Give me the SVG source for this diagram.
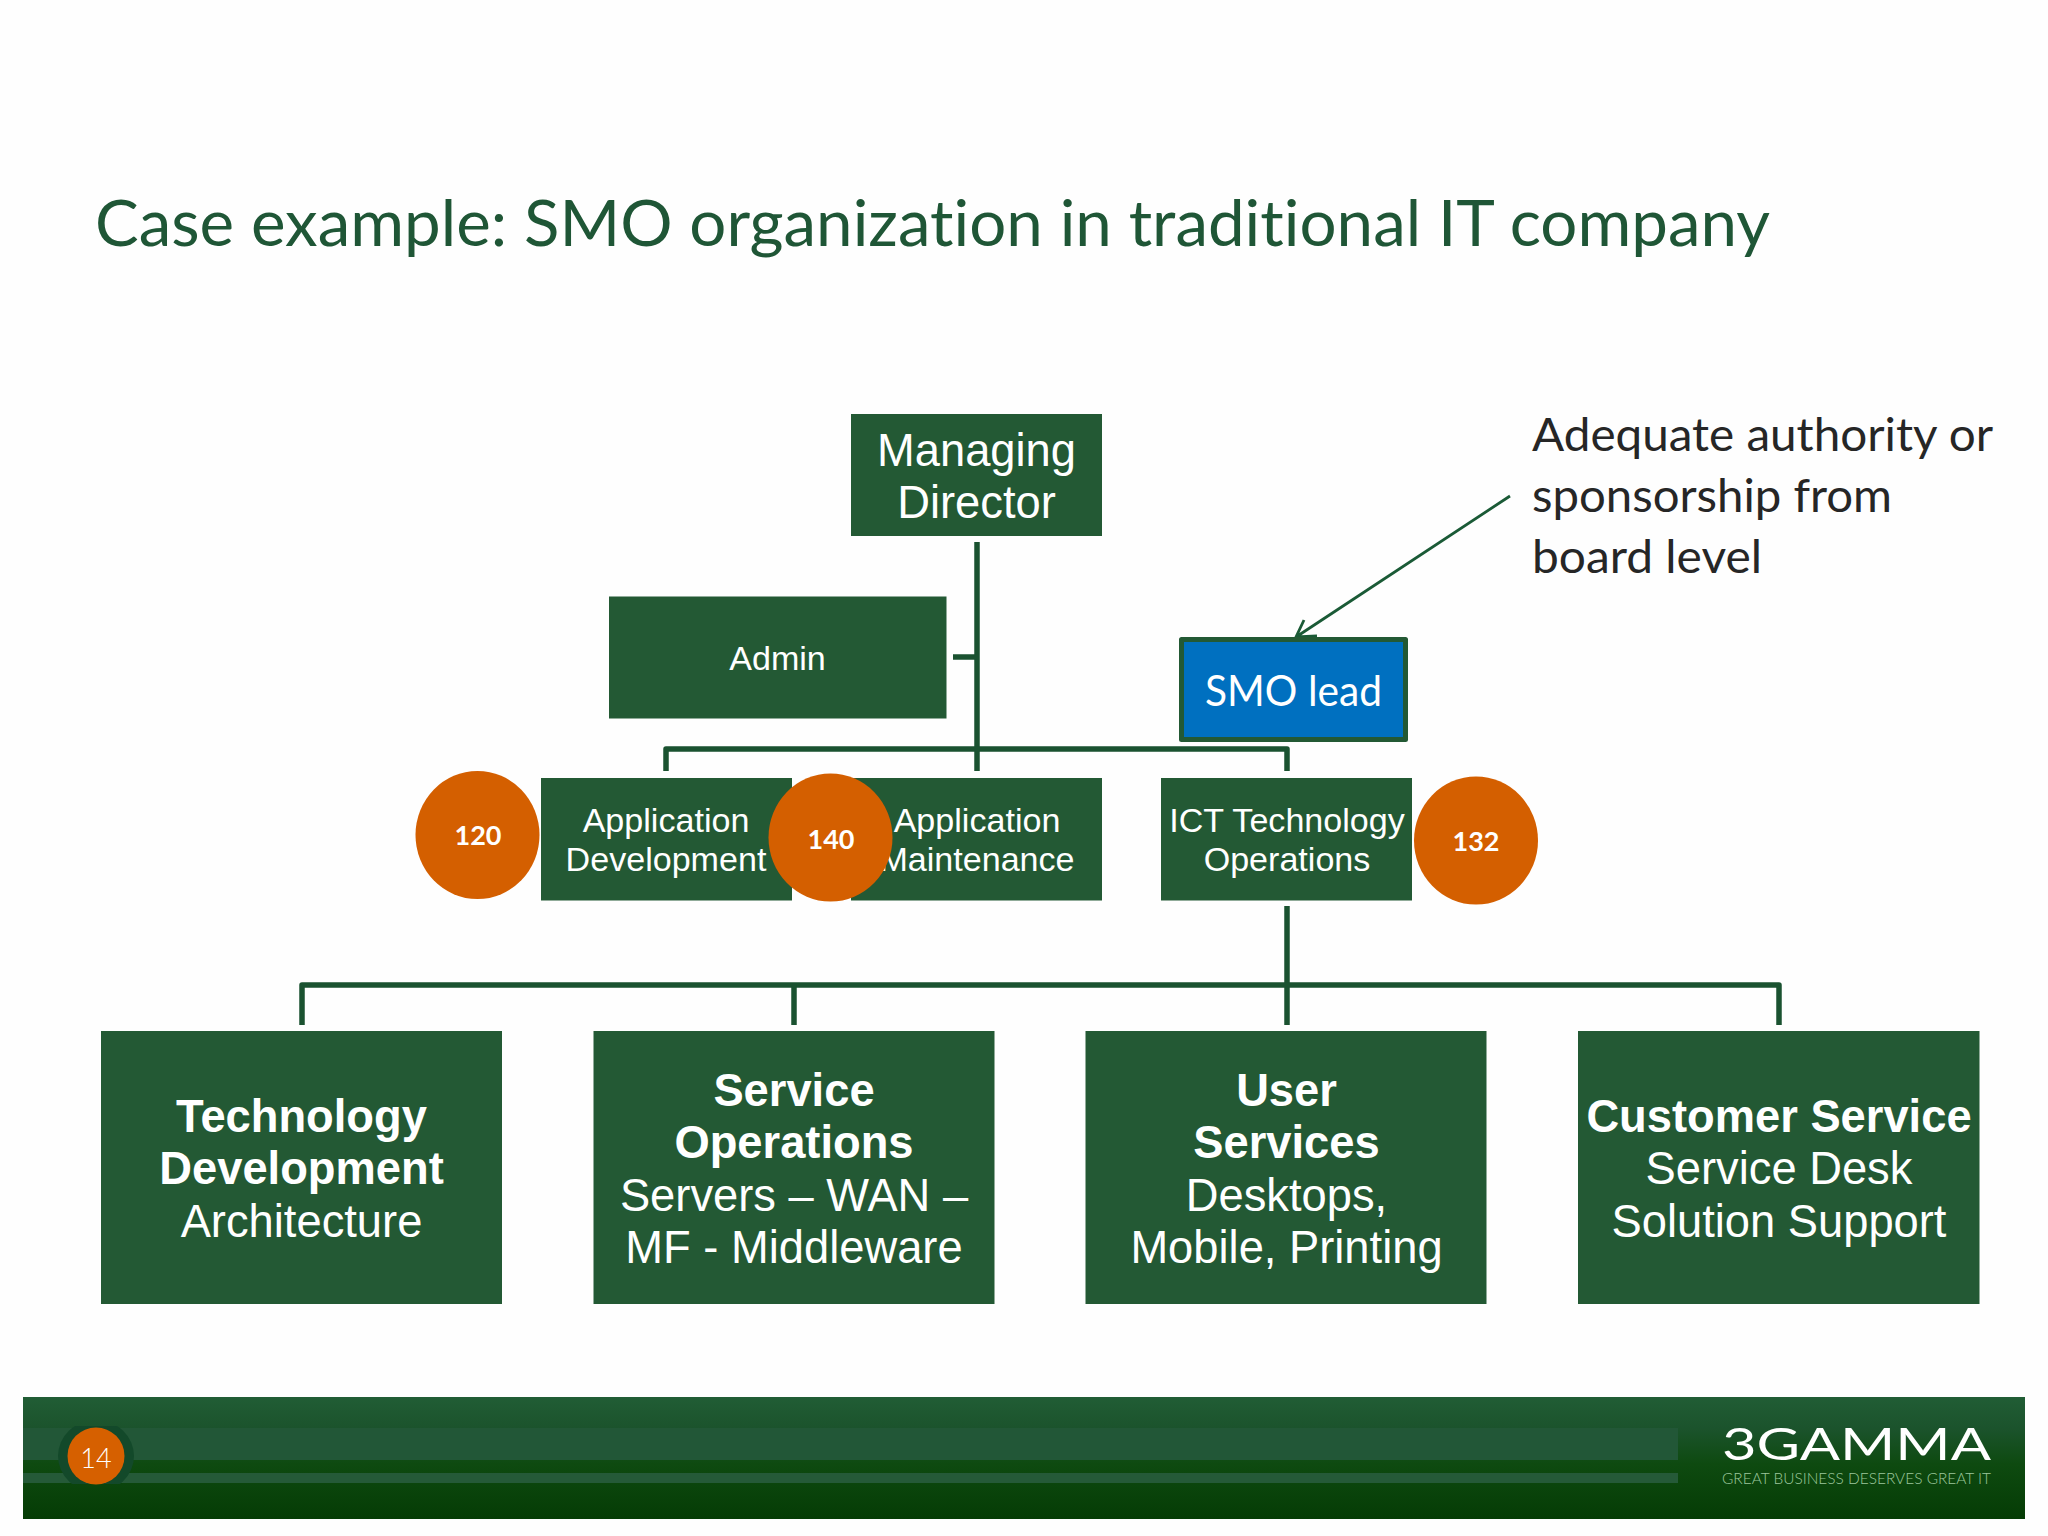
<svg xmlns="http://www.w3.org/2000/svg" width="2048" height="1536" viewBox="0 0 2048 1536">
<style>
text{font-variant-ligatures:none}
.box{fill:#235934}
.ar{font-family:"Liberation Sans",Arial,sans-serif;fill:#fff;text-anchor:middle}
.s34{font-size:34.100px}
.s45{font-size:45.300px}
.b{font-weight:700}
.cal{font-family:Lato,"Noto Sans",sans-serif}
.wire{fill:none;stroke:#1a5230;stroke-width:5.500;stroke-linejoin:round}
.badge{fill:#d45f00}
.num{font-family:Lato,"Noto Sans",sans-serif;font-weight:700;font-size:27px;fill:#fff;text-anchor:middle}
.call{font-family:Lato,"Noto Sans",sans-serif;font-size:46px;fill:#262626}
</style>
<defs>
<linearGradient id="band" x1="0" y1="0" x2="0" y2="1">
<stop offset="0" stop-color="#215d35"/>
<stop offset="0.26" stop-color="#1b532c"/>
<stop offset="0.55" stop-color="#0e4a10"/>
<stop offset="1" stop-color="#053c05"/>
</linearGradient>
<clipPath id="ringclip"><rect x="40" y="1426" width="120" height="58"/></clipPath>
</defs>
<rect width="2048" height="1536" fill="#fefefe"/>
<text id="title" x="95" y="246" class="cal" font-size="64" fill="#1f5636" textLength="1675" lengthAdjust="spacingAndGlyphs">Case example: SMO organization in traditional IT company</text>
<g id="connectors">
<path class="wire" d="M977 542V771"/>
<path class="wire" d="M953 657H977"/>
<path class="wire" d="M666 771V749H1287V771"/>
<path class="wire" d="M1287 906V1025"/>
<path class="wire" d="M302 1025V985H1779V1025"/>
<path class="wire" d="M794 985V1025"/>
<path d="M1510 496L1296 637M1304 620L1296 637L1317 636" fill="none" stroke="#1a5a36" stroke-width="2.800"/>
</g>
<g id="managing-director"><rect class="box" x="851" y="414" width="251" height="122"/><text class="ar s45" x="976.500" y="466">Managing</text><text class="ar s45" x="976.500" y="518">Director</text></g>
<g id="admin"><rect class="box" x="609" y="596.500" width="337.500" height="122"/><text class="ar s34" x="777.500" y="670">Admin</text></g>
<g id="smo-lead"><rect x="1181.500" y="639.500" width="224" height="100" fill="#0070c0" stroke="#235934" stroke-width="5" stroke-linejoin="round"/><text class="cal" x="1205" y="706" font-size="42" fill="#fff" textLength="177" lengthAdjust="spacingAndGlyphs">SMO lead</text></g>
<g id="application-development"><rect class="box" x="541" y="778" width="251" height="122.500"/><text class="ar s34" x="666" y="832">Application</text><text class="ar s34" x="666" y="871">Development</text></g>
<g id="application-maintenance"><rect class="box" x="851" y="778" width="251" height="122.500"/><text class="ar s34" x="977" y="832">Application</text><text class="ar s34" x="977" y="871">Maintenance</text></g>
<g id="ict-operations"><rect class="box" x="1161" y="778" width="251" height="122.500"/><text class="ar s34" x="1287" y="832">ICT Technology</text><text class="ar s34" x="1287" y="871">Operations</text></g>
<g id="technology-development"><rect class="box" x="101" y="1031" width="401" height="273"/><text class="ar s45 b" x="301.500" y="1132">Technology</text><text class="ar s45 b" x="301.500" y="1184">Development</text><text class="ar s45" x="301.500" y="1236.500">Architecture</text></g>
<g id="service-operations"><rect class="box" x="593.500" y="1031" width="401" height="273"/><text class="ar s45 b" x="794" y="1106">Service</text><text class="ar s45 b" x="794" y="1158">Operations</text><text class="ar s45" x="794" y="1210.500">Servers – WAN –</text><text class="ar s45" x="794" y="1262.500">MF - Middleware</text></g>
<g id="user-services"><rect class="box" x="1085.500" y="1031" width="401" height="273"/><text class="ar s45 b" x="1286.500" y="1106">User</text><text class="ar s45 b" x="1286.500" y="1158">Services</text><text class="ar s45" x="1286.500" y="1210.500">Desktops,</text><text class="ar s45" x="1286.500" y="1262.500">Mobile, Printing</text></g>
<g id="customer-service"><rect class="box" x="1578" y="1031" width="401.500" height="273"/><text class="ar s45 b" x="1779" y="1132">Customer Service</text><text class="ar s45" x="1779" y="1184">Service Desk</text><text class="ar s45" x="1779" y="1236.500">Solution Support</text></g>
<g id="badge-120"><ellipse class="badge" cx="477.500" cy="835" rx="62" ry="64"/><text class="num" x="478" y="845">120</text></g>
<g id="badge-140"><ellipse class="badge" cx="830.500" cy="837.500" rx="62" ry="64"/><text class="num" x="831" y="849">140</text></g>
<g id="badge-132"><ellipse class="badge" cx="1476" cy="840.500" rx="62" ry="64"/><text class="num" x="1476" y="851">132</text></g>
<g id="callout">
<text class="call" x="1532" y="451" textLength="461" lengthAdjust="spacingAndGlyphs">Adequate authority or</text>
<text class="call" x="1532" y="512" textLength="360" lengthAdjust="spacingAndGlyphs">sponsorship from</text>
<text class="call" x="1532" y="573" textLength="230" lengthAdjust="spacingAndGlyphs">board level</text>
</g>
<g id="footer">
<rect x="23" y="1397" width="2002" height="122" fill="url(#band)"/>
<rect x="23" y="1428" width="1655" height="32" fill="#225737"/>
<rect x="23" y="1473" width="1655" height="10" fill="#255a38"/>
<ellipse cx="96" cy="1456" rx="38" ry="36" fill="#13492a" clip-path="url(#ringclip)"/>
<ellipse cx="96" cy="1456" rx="28.500" ry="28.500" fill="#d66000"/>
<text x="96" y="1468" font-family="Lato,'Noto Sans',sans-serif" font-size="27" font-weight="300" fill="#fff" text-anchor="middle">14</text>
<text x="1722" y="1460" font-family="Lato,'Noto Sans',sans-serif" font-size="44.500" fill="#fff" textLength="269" lengthAdjust="spacingAndGlyphs">3GAMMA</text>
<text x="1722" y="1484" font-family="Lato,'Noto Sans',sans-serif" font-size="16.500" font-weight="300" fill="#9cc79c" textLength="269" lengthAdjust="spacingAndGlyphs">GREAT BUSINESS DESERVES GREAT IT</text>
</g>
</svg>
